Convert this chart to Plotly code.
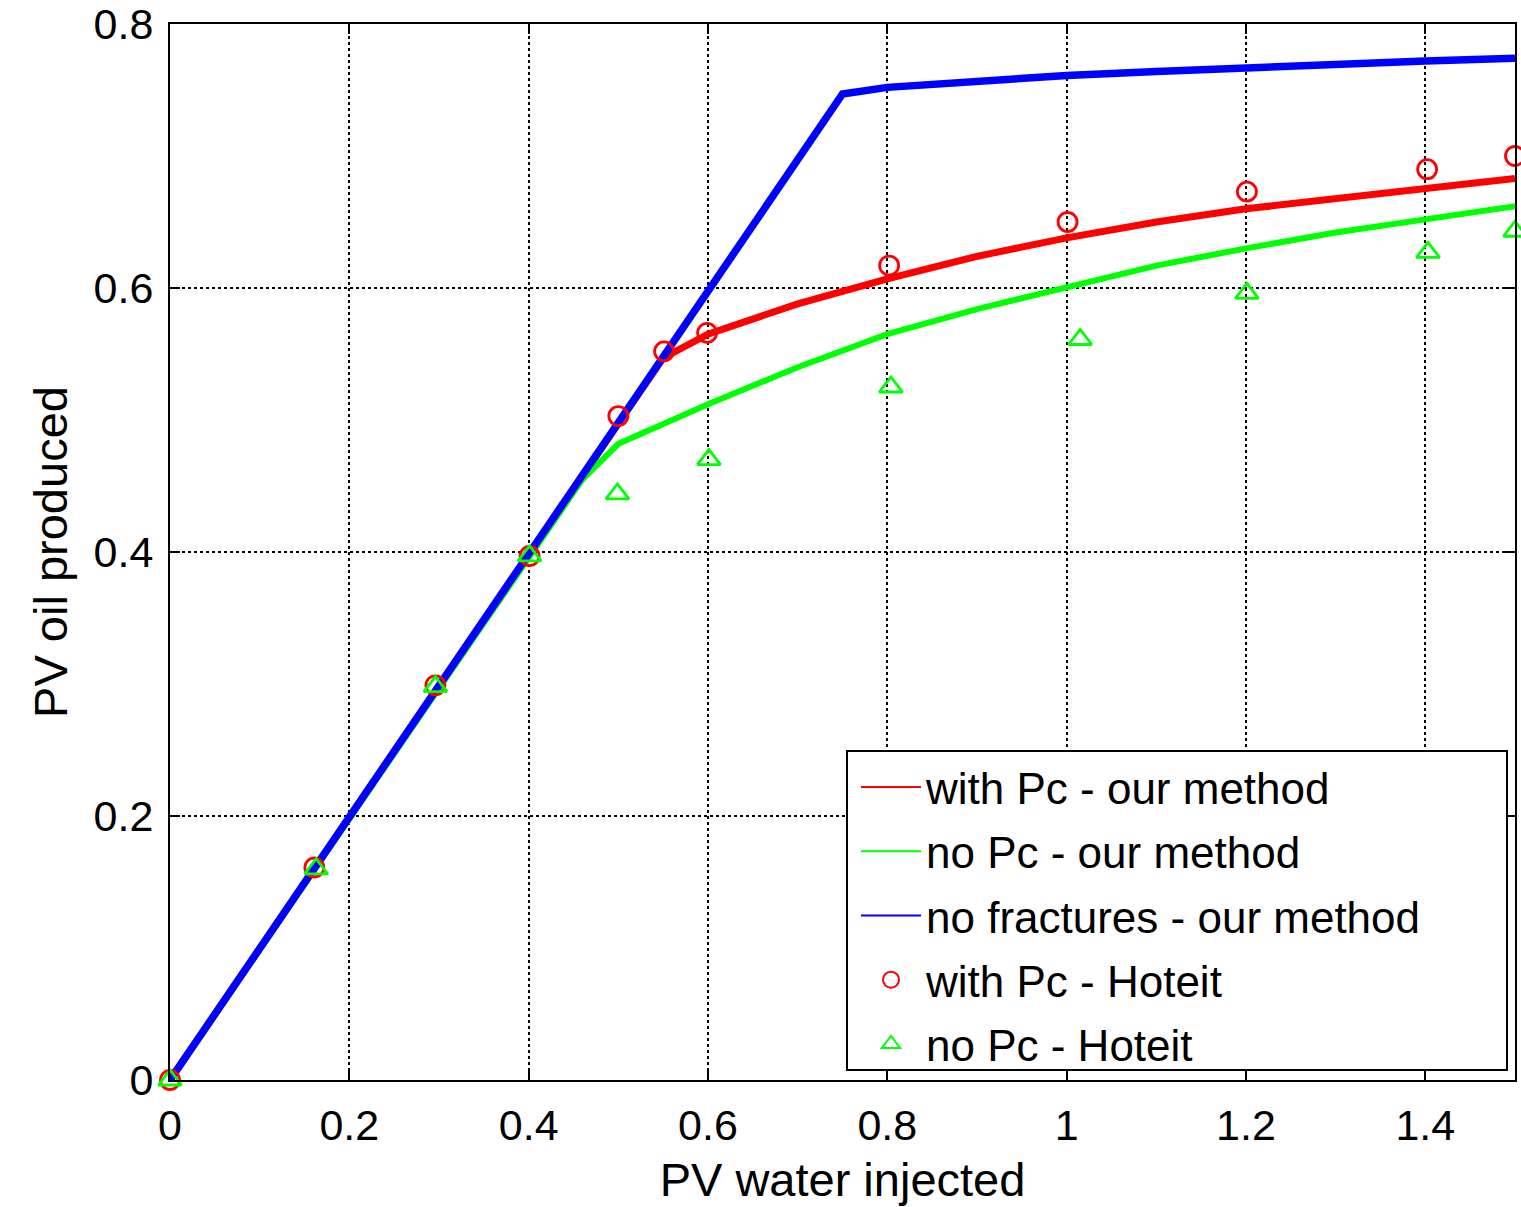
import plotly.graph_objects as go

# ---- data ----
x_blue = [0.0, 0.75, 0.8, 0.9, 1.0, 1.1, 1.2, 1.3, 1.4, 1.5]
y_blue = [0.0, 0.747, 0.752, 0.757, 0.761, 0.764, 0.767, 0.770, 0.772, 0.774]

x_red = [0.0, 0.55, 0.6, 0.7, 0.8, 0.9, 1.0, 1.1, 1.2, 1.3, 1.4, 1.5]
y_red = [0.0, 0.547, 0.565, 0.588, 0.607, 0.624, 0.638, 0.650, 0.660, 0.668, 0.676, 0.683]

x_green = [0.0, 0.46, 0.5, 0.6, 0.7, 0.8, 0.9, 1.0, 1.1, 1.2, 1.3, 1.4, 1.5]
y_green = [0.0, 0.455, 0.482, 0.512, 0.540, 0.565, 0.584, 0.601, 0.617, 0.630, 0.642, 0.652, 0.662]

x_red_h = [0.0, 0.161, 0.296, 0.401, 0.50, 0.551, 0.599, 0.802, 1.001, 1.201, 1.402, 1.50]
y_red_h = [0.0, 0.161, 0.299, 0.397, 0.503, 0.552, 0.566, 0.617, 0.650, 0.673, 0.690, 0.700]

x_green_h = [0.0, 0.163, 0.296, 0.401, 0.499, 0.601, 0.804, 1.015, 1.201, 1.403, 1.50]
y_green_h = [0.0, 0.160, 0.298, 0.397, 0.444, 0.470, 0.525, 0.561, 0.596, 0.627, 0.643]

x_ticks = [0, 0.2, 0.4, 0.6, 0.8, 1.0, 1.2, 1.4]
x_tick_labels = ["0", "0.2", "0.4", "0.6", "0.8", "1", "1.2", "1.4"]
y_ticks = [0, 0.2, 0.4, 0.6, 0.8]
y_tick_labels = ["0", "0.2", "0.4", "0.6", "0.8"]

names = ["with Pc - our method", "no Pc - our method", "no fractures - our method",
         "with Pc - Hoteit", "no Pc - Hoteit"]

RED, GREEN, BLUE = "#ff0000", "#00ff00", "#0000ff"
FONT = "Liberation Sans, Arial, Helvetica, sans-serif"

# plot-area geometry in pixels (used only to place the legend box)
PL, PR, PT, PB = 170, 1515, 24, 1080
PW, PH = PR - PL, PB - PT

fig = go.Figure()
# plotted curves (no legend)
fig.add_trace(go.Scatter(x=x_red, y=y_red, mode="lines", line=dict(color=RED, width=7), showlegend=False))
fig.add_trace(go.Scatter(x=x_green, y=y_green, mode="lines", line=dict(color=GREEN, width=6), showlegend=False))
fig.add_trace(go.Scatter(x=x_blue, y=y_blue, mode="lines", line=dict(color=BLUE, width=7.5), showlegend=False))
fig.add_trace(go.Scatter(x=x_red_h, y=y_red_h, mode="markers",
                         marker=dict(symbol="circle-open", size=19, color=RED, line=dict(width=2.8)),
                         showlegend=False, cliponaxis=False))
fig.add_trace(go.Scatter(x=x_green_h, y=y_green_h, mode="markers",
                         marker=dict(symbol="triangle-up-open", size=20, color=GREEN, line=dict(width=2.8)),
                         showlegend=False, cliponaxis=False))

# legend entries (thin sample lines like the reference)
leg_specs = [
    dict(mode="lines", line=dict(color=RED, width=2)),
    dict(mode="lines", line=dict(color=GREEN, width=2)),
    dict(mode="lines", line=dict(color=BLUE, width=2)),
    dict(mode="markers", marker=dict(symbol="circle-open", size=16, color=RED, line=dict(width=2))),
    dict(mode="markers", marker=dict(symbol="triangle-up-open", size=16, color=GREEN, line=dict(width=2))),
]
for i, (nm, spec) in enumerate(zip(names, leg_specs)):
    fig.add_trace(go.Scatter(x=[None], y=[None], name=nm, legendgroup=f"g{i}", **spec))

axis_common = dict(
    showline=True, linecolor="black", linewidth=2, mirror="allticks",
    ticks="inside", ticklen=10, tickwidth=2, tickcolor="black",
    showgrid=True, gridcolor="black", gridwidth=1.5, griddash="dot",
    zeroline=False, tickfont=dict(size=43, color="black", family=FONT),
    ticklabeloverflow="allow", ticklabelstandoff=6,
)

# legend frame (drawn as a box to match the reference size)
fig.add_shape(type="rect", xref="paper", yref="paper", layer="above",
              x0=(847 - PL) / PW, x1=(1507 - PL) / PW,
              y0=(PB - 1070) / PH, y1=(PB - 751) / PH,
              line=dict(color="black", width=2), fillcolor="white")

fig.update_layout(
    width=1521, height=1207,
    margin=dict(l=PL, r=1521 - PR, t=PT, b=1207 - PB),
    paper_bgcolor="white", plot_bgcolor="white",
    font=dict(family=FONT, color="black"),
    xaxis=dict(range=[0, 1.5], tickvals=x_ticks, ticktext=x_tick_labels,
               automargin="bottom",
               title=dict(text="PV water injected", font=dict(size=47, family=FONT), standoff=16),
               **axis_common),
    yaxis=dict(range=[0, 0.8], tickvals=y_ticks, ticktext=y_tick_labels,
               automargin="left",
               title=dict(text="PV oil produced", font=dict(size=47, family=FONT), standoff=11),
               **axis_common),
    legend=dict(x=(856 - PL) / PW, xanchor="left", y=(PB - 752) / PH, yanchor="top",
                bgcolor="rgba(0,0,0,0)", borderwidth=0,
                font=dict(size=44, family=FONT, color="black"),
                traceorder="grouped", tracegroupgap=4, itemwidth=60),
)

fig.write_html("out.html", config={"displayModeBar": False},
               post_script="document.body.style.margin='0px';")
